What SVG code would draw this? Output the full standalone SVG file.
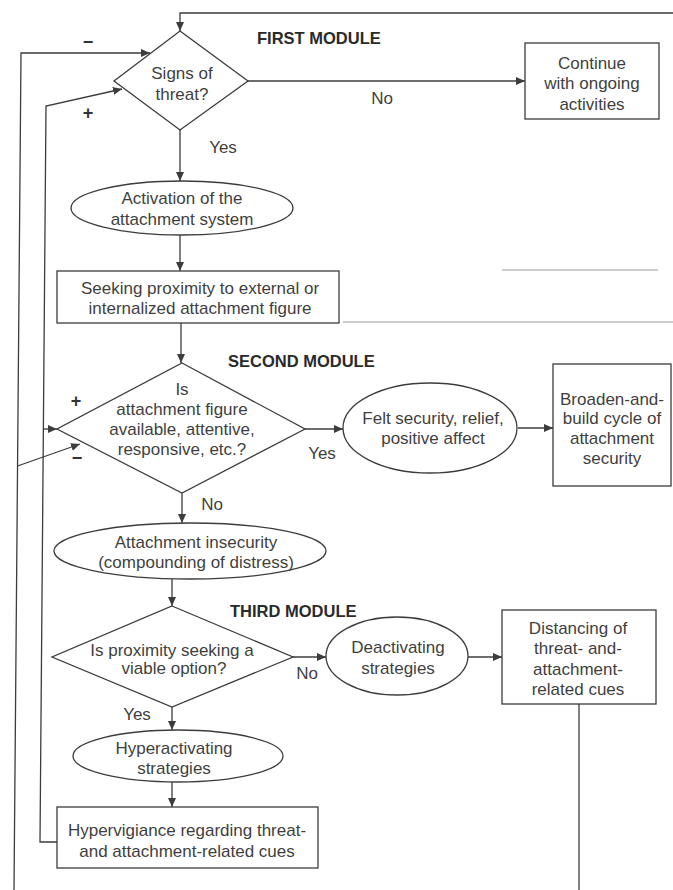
<svg xmlns="http://www.w3.org/2000/svg" width="673" height="890" viewBox="0 0 673 890">
<style>
.shape{fill:#fff;stroke:#3c3c3c;stroke-width:1.3}
.t{font-family:"Liberation Sans",Arial,sans-serif;font-size:17px;fill:#3f3f3f;text-anchor:middle}
.mod{font-family:"Liberation Sans",Arial,sans-serif;font-size:16.5px;font-weight:bold;fill:#2a2a2a}
.sign{font-family:"Liberation Sans",Arial,sans-serif;font-size:18px;font-weight:bold;fill:#333;text-anchor:middle}
.c{fill:none;stroke:#3c3c3c;stroke-width:1.3}
.art{fill:none;stroke:#9a9a9a;stroke-width:1.2}
</style>
<defs>
<marker id="ah" markerUnits="userSpaceOnUse" markerWidth="10" markerHeight="8" refX="9" refY="4" orient="auto">
<path d="M0,0 L9,4 L0,8 Z" fill="#3c3c3c"/>
</marker>
</defs>
<rect width="673" height="890" fill="#fff"/>

<g id="artifacts">
<line class="art" x1="502" y1="270" x2="658" y2="270"/>
<line class="art" x1="343" y1="322" x2="673" y2="322"/>
</g>

<g id="connectors">
<polyline class="c" points="673,13 180,13 180,31" marker-end="url(#ah)"/>
<line class="c" x1="248" y1="81" x2="525" y2="81" marker-end="url(#ah)"/>
<line class="c" x1="180" y1="130" x2="180" y2="181" marker-end="url(#ah)"/>
<line class="c" x1="180" y1="235" x2="180" y2="271" marker-end="url(#ah)"/>
<line class="c" x1="181" y1="323" x2="181" y2="363" marker-end="url(#ah)"/>
<line class="c" x1="305" y1="429" x2="343" y2="429" marker-end="url(#ah)"/>
<line class="c" x1="518" y1="428" x2="553" y2="428" marker-end="url(#ah)"/>
<line class="c" x1="182" y1="493" x2="182" y2="523" marker-end="url(#ah)"/>
<line class="c" x1="172" y1="579" x2="172" y2="606" marker-end="url(#ah)"/>
<line class="c" x1="293" y1="657" x2="326" y2="657" marker-end="url(#ah)"/>
<line class="c" x1="468" y1="657" x2="502" y2="657" marker-end="url(#ah)"/>
<line class="c" x1="579" y1="704" x2="579" y2="890"/>
<line class="c" x1="172" y1="707" x2="172" y2="730" marker-end="url(#ah)"/>
<line class="c" x1="172" y1="782" x2="172" y2="807" marker-end="url(#ah)"/>
<!-- inner feedback (+) -->
<polyline class="c" points="57,842 40,842 46,106 122,89" marker-end="url(#ah)"/>
<line class="c" x1="43.4" y1="429" x2="57" y2="429" marker-end="url(#ah)"/>
<!-- outer feedback (-) -->
<polyline class="c" points="14,890 21,53 150,53" marker-end="url(#ah)"/>
<line class="c" x1="17.5" y1="466" x2="80" y2="444" marker-end="url(#ah)"/>
</g>

<g id="labels">
<text class="mod" x="257" y="44">FIRST MODULE</text>
<text class="mod" x="228" y="367">SECOND MODULE</text>
<text class="mod" x="230" y="617">THIRD MODULE</text>
<text class="sign" x="88" y="48">−</text>
<text class="sign" x="88" y="119">+</text>
<text class="sign" x="76" y="407">+</text>
<text class="sign" x="77" y="464">−</text>
<text class="t" x="382" y="104">No</text>
<text class="t" x="223" y="153">Yes</text>
<text class="t" x="322" y="459">Yes</text>
<text class="t" x="212" y="510">No</text>
<text class="t" x="307" y="679">No</text>
<text class="t" x="137" y="720">Yes</text>
</g>

<g id="signs-of-threat">
<polygon class="shape" points="180,31 248,81 180,130 114,81"/>
<text class="t" x="182" y="79">Signs of</text>
<text class="t" x="182" y="100">threat?</text>
</g>

<g id="continue">
<rect class="shape" x="525" y="43" width="134" height="76"/>
<text class="t" x="592" y="69">Continue</text>
<text class="t" x="592" y="89">with ongoing</text>
<text class="t" x="592" y="110">activities</text>
</g>

<g id="activation">
<ellipse class="shape" cx="182" cy="208" rx="111" ry="27"/>
<text class="t" x="182" y="204">Activation of the</text>
<text class="t" x="182" y="225">attachment system</text>
</g>

<g id="seeking">
<rect class="shape" x="57" y="271" width="282" height="52"/>
<text class="t" x="200" y="294">Seeking proximity to external or</text>
<text class="t" x="200" y="314">internalized attachment figure</text>
</g>

<g id="available">
<polygon class="shape" points="182,363 305,429 182,493 57,429"/>
<text class="t" x="182" y="395">Is</text>
<text class="t" x="182" y="415">attachment figure</text>
<text class="t" x="182" y="435">available, attentive,</text>
<text class="t" x="182" y="455">responsive, etc.?</text>
</g>

<g id="felt-security">
<ellipse class="shape" cx="430" cy="428" rx="87" ry="45"/>
<text class="t" x="433" y="424">Felt security, relief,</text>
<text class="t" x="433" y="444">positive affect</text>
</g>

<g id="broaden">
<rect class="shape" x="553" y="364" width="118" height="122"/>
<text class="t" x="612" y="405">Broaden-and-</text>
<text class="t" x="612" y="424">build cycle of</text>
<text class="t" x="612" y="444">attachment</text>
<text class="t" x="612" y="464">security</text>
</g>

<g id="insecurity">
<ellipse class="shape" cx="190" cy="551" rx="136" ry="28"/>
<text class="t" x="196" y="548">Attachment insecurity</text>
<text class="t" x="196" y="568">(compounding of distress)</text>
</g>

<g id="viable">
<polygon class="shape" points="172,606 293,657 172,707 52,657"/>
<text class="t" x="172" y="656">Is proximity seeking a</text>
<text class="t" x="174" y="674">viable option?</text>
</g>

<g id="deactivating">
<ellipse class="shape" cx="397" cy="656" rx="71" ry="39"/>
<text class="t" x="398" y="653">Deactivating</text>
<text class="t" x="398" y="674">strategies</text>
</g>

<g id="distancing">
<rect class="shape" x="502" y="610" width="154" height="94"/>
<text class="t" x="578" y="634">Distancing of</text>
<text class="t" x="578" y="654">threat- and-</text>
<text class="t" x="578" y="675">attachment-</text>
<text class="t" x="578" y="695">related cues</text>
</g>

<g id="hyperactivating">
<ellipse class="shape" cx="178" cy="756" rx="105" ry="26"/>
<text class="t" x="174" y="754">Hyperactivating</text>
<text class="t" x="174" y="774">strategies</text>
</g>

<g id="hypervigilance">
<rect class="shape" x="57" y="807" width="261" height="61"/>
<text class="t" x="187" y="836">Hypervigiance regarding threat-</text>
<text class="t" x="187" y="857">and attachment-related cues</text>
</g>
</svg>
